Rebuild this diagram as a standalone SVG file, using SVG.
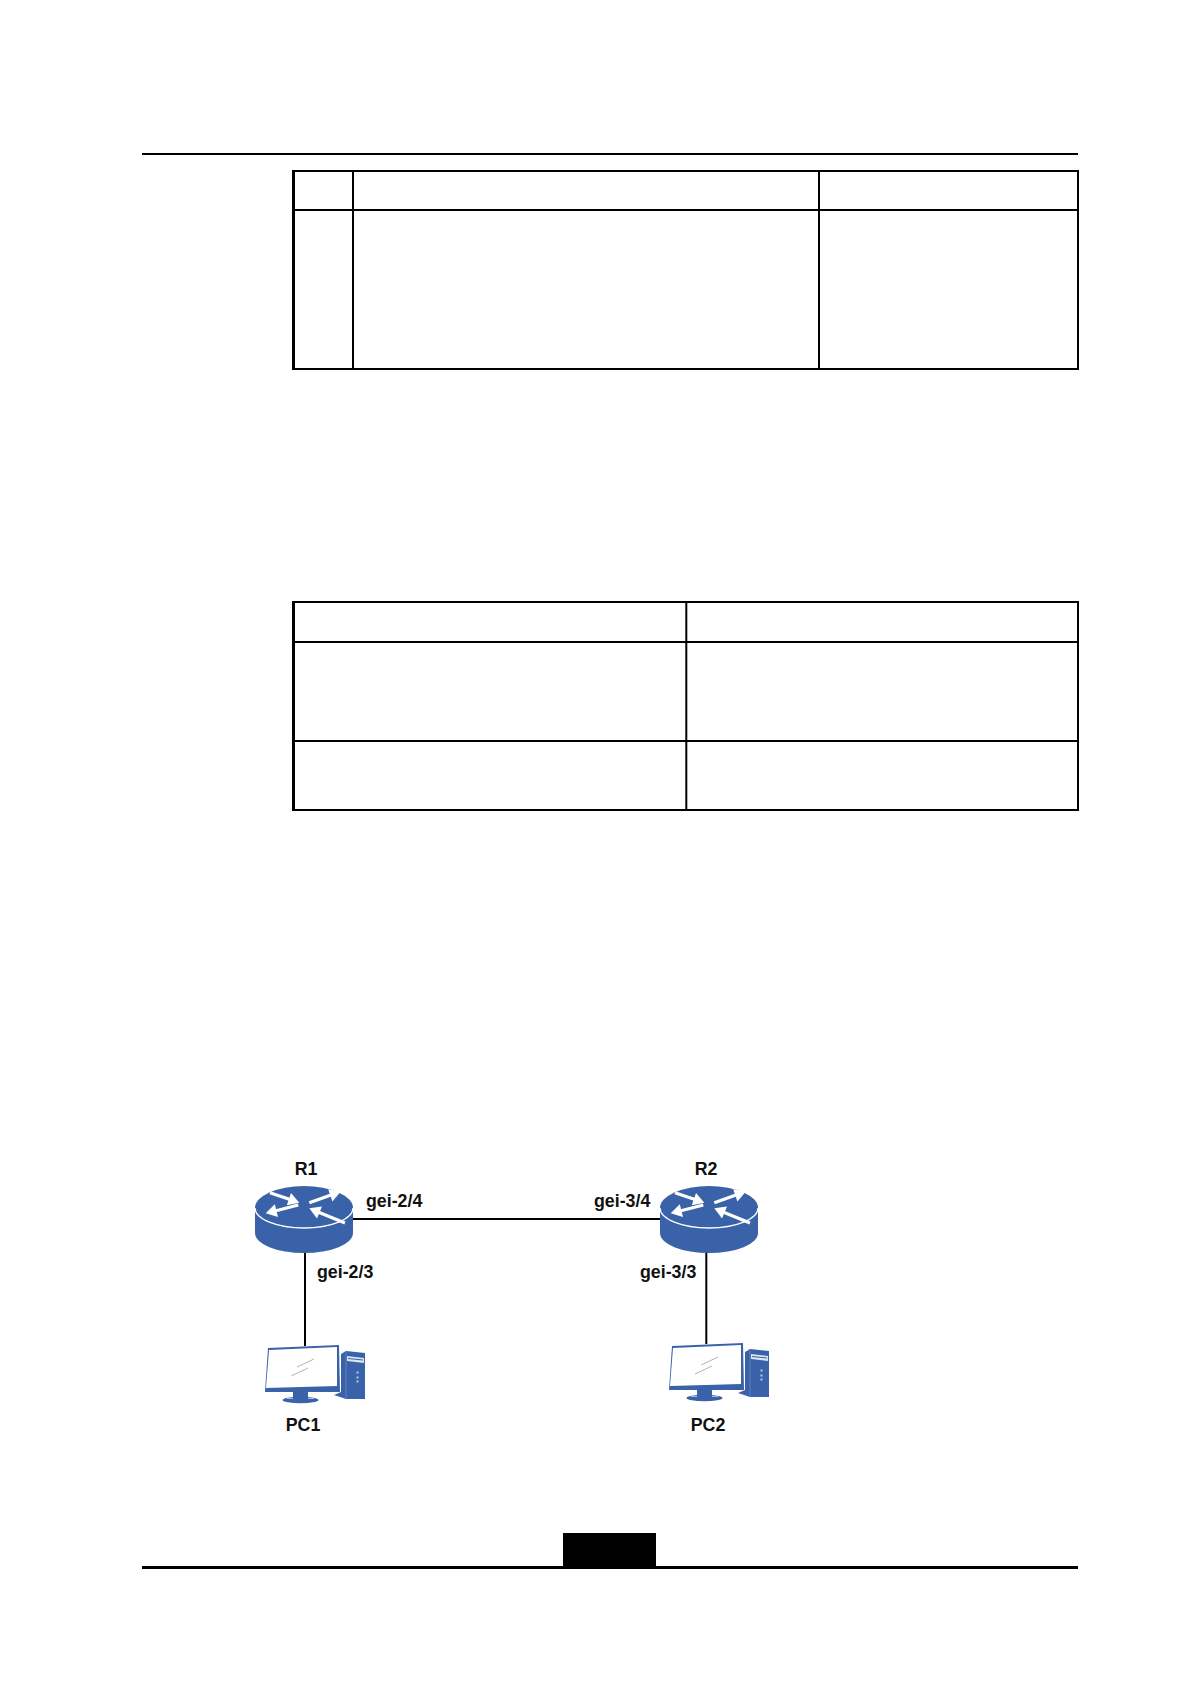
<svg xmlns="http://www.w3.org/2000/svg" width="1191" height="1684" viewBox="0 0 1191 1684">
<style>
.t{fill:none;stroke:#000;stroke-width:2}
.e{fill:none;stroke:#000;stroke-width:3}
.c{fill:none;stroke:#000;stroke-width:2}
.b{fill:#3a62a8}
.s{fill:none;stroke:#fff;stroke-width:3.200}
.l{font-family:"Liberation Sans",Arial,sans-serif;font-weight:700;font-size:17.8px;fill:#111}
</style>
<defs>
<g id="router">
<path class="b" d="M0 22V47A49 20 0 0 0 98 47V22Z"/>
<ellipse class="b" cx="49" cy="22" rx="49" ry="22"/>
<path d="M0 22A49 20 0 0 0 98 22" fill="none" stroke="#fff" stroke-width="1.3"/>
<path class="s" d="M15 6.700L35 13.500M43.300 19L20 25M54.300 16.700L76 9M90 37L63 26"/>
<path fill="#fff" d="M44.300 16.700L31.800 19.300L36 7.100Z"/>
<path fill="#fff" d="M10.700 27.300L19.800 18.300L23 30.900Z"/>
<path fill="#fff" d="M85.700 5.700L77.400 15.400L73.200 3.200Z"/>
<path fill="#fff" d="M54.300 22.300L67 20.500L62 32.500Z"/>
</g>
<g id="pc">
<path class="b" d="M81 6L100 8V54H81L69 50L76 47V9Z"/>
<path d="M81 7V54" stroke="#5f82bd" stroke-width="1"/>
<path d="M82 11L99 13V18L82 16Z" fill="#dbe4f2"/>
<path d="M83 13.500L98 15" stroke="#3a62a8" stroke-width="1" fill="none"/>
<path fill="#b9c9e2" d="M91.500 26.500h2v2h-2zM91.500 31.500h2v2h-2zM91.500 35.500h2v2h-2z"/>
<path class="b" d="M3 3L74 0L75 47L0 47Z"/>
<path d="M4 5L72 2L72 41L1 43Z" fill="#fff"/>
<path d="M32 22L49 14M26 31L43 23" stroke="#8c96a3" stroke-width=".7" fill="none"/>
<path class="b" d="M28 47H43V52H28Z"/>
<ellipse class="b" cx="35.500" cy="55" rx="18" ry="3.200"/>
<path d="M22 53.500H28M43 53.500H49" stroke="#c7d4e8" stroke-width=".8" fill="none"/>
</g>
</defs>
<rect width="1191" height="1684" fill="#fff"/>
<g id="page">
<path d="M142 154H1078" stroke="#000" stroke-width="2"/>
<path d="M142 1567.500H1078" stroke="#000" stroke-width="3"/>
<rect x="563" y="1533" width="93" height="35" fill="#000"/>
</g>
<g id="table1">
<path class="t" d="M292 171H1079M292 210H1078M292 369H1079M353 171V369M819 171V369M1078 170V370"/>
<path class="e" d="M293.500 170V370"/>
</g>
<g id="table2">
<path class="t" d="M292 602H1079M292 642H1078M292 741H1078M292 810H1079M686.300 602V810M1078 601V811"/>
<path class="e" d="M293.500 601V811"/>
</g>
<g id="connectors">
<path class="c" d="M353 1219H660M305 1252V1346M706.300 1252V1344"/>
</g>
<g id="R1"><use href="#router" x="255" y="1186"/><text class="l" x="306" y="1175" text-anchor="middle">R1</text></g>
<g id="R2"><use href="#router" x="660" y="1186"/><text class="l" x="706" y="1175" text-anchor="middle">R2</text></g>
<g id="PC1"><use href="#pc" x="265" y="1345"/><text class="l" x="303" y="1431" text-anchor="middle">PC1</text></g>
<g id="PC2"><use href="#pc" x="669" y="1343"/><text class="l" x="708" y="1431" text-anchor="middle">PC2</text></g>
<g id="labels">
<text class="l" x="366" y="1207">gei-2/4</text>
<text class="l" x="594" y="1207">gei-3/4</text>
<text class="l" x="317" y="1278">gei-2/3</text>
<text class="l" x="640" y="1278">gei-3/3</text>
</g>
</svg>
